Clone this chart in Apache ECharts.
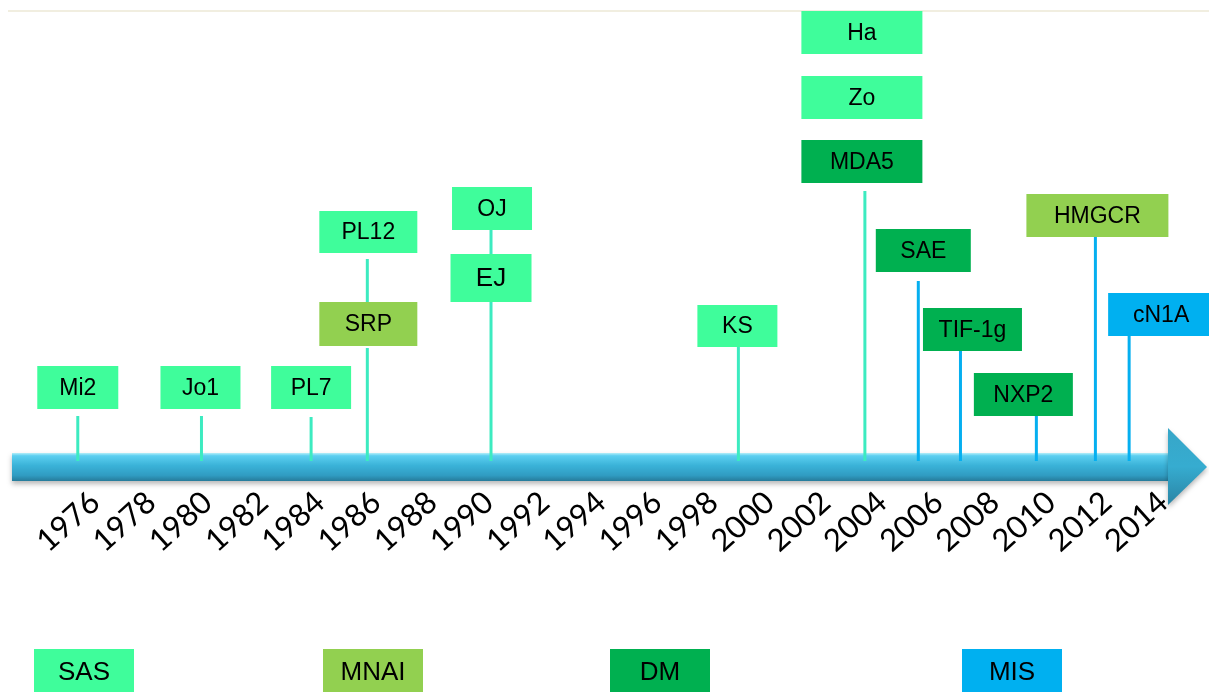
<!DOCTYPE html>
<html>
<head>
<meta charset="utf-8">
<title>Myositis antibody timeline</title>
<script src="https://cdn.jsdelivr.net/npm/echarts@6/dist/echarts.min.js"></script>
<style>
  html, body { margin: 0; padding: 0; background: #ffffff; }
  #chart { width: 1209px; height: 692px; }
</style>
</head>
<body>
<div id="chart"></div>
<script>
// ---- data -------------------------------------------------------------
const yearTicks = [1976, 1978, 1980, 1982, 1984, 1986, 1988, 1990, 1992, 1994,
                   1996, 1998, 2000, 2002, 2004, 2006, 2008, 2010, 2012, 2014];

const antibodies = ['Mi2', 'Jo1', 'PL7', 'PL12', 'SRP', 'EJ', 'OJ', 'KS',
                    'MDA5', 'Zo', 'Ha', 'SAE', 'TIF-1g', 'NXP2', 'HMGCR', 'cN1A'];

const discoveryYear = [1975.2, 1979.6, 1983.5, 1985.5, 1985.5, 1989.9, 1989.9, 1998.7,
                       2003.2, 2003.2, 2003.2, 2005.1, 2006.6, 2009.3, 2011.4, 2012.6];

const antibodyGroup = ['SAS', 'SAS', 'SAS', 'SAS', 'MNAI', 'SAS', 'SAS', 'SAS',
                       'DM', 'SAS', 'SAS', 'DM', 'DM', 'DM', 'MNAI', 'MIS'];

const groupNames = ['SAS', 'MNAI', 'DM', 'MIS'];

// ---- styling & layout ---------------------------------------------------
const groupColor = { SAS: '#3FFD9B', MNAI: '#92D050', DM: '#00B050', MIS: '#00B0F0' };
const stemEarly = '#3CEBC0';
const stemLate = '#05AFF0';

// label box placement: height of the box centre above the arrow, box size,
// sideways nudge of the box, gap above the stem, whether a stem is drawn
const boxLayout = {
  'Mi2':    { lift: 78.5,  w: 81,  h: 43, dx: 0,   gap: 7, stem: true },
  'Jo1':    { lift: 78.5,  w: 80,  h: 43, dx: -1,  gap: 7, stem: true },
  'PL7':    { lift: 78.5,  w: 80,  h: 43, dx: 0,   gap: 8, stem: true },
  'PL12':   { lift: 234,   w: 98,  h: 42, dx: 1,   gap: 6, stem: true },
  'SRP':    { lift: 142,   w: 98,  h: 44, dx: 1,   gap: 2, stem: true },
  'EJ':     { lift: 188,   w: 81,  h: 48, dx: 0,   gap: 0, stem: true, big: true },
  'OJ':     { lift: 257.5, w: 80,  h: 43, dx: 1,   gap: 0, stem: true },
  'KS':     { lift: 140,   w: 80,  h: 42, dx: -1,  gap: 0, stem: true },
  'MDA5':   { lift: 304.5, w: 121, h: 43, dx: -3,  gap: 8, stem: true },
  'Zo':     { lift: 368.5, w: 121, h: 43, dx: -3,  gap: 0, stem: false },
  'Ha':     { lift: 433.5, w: 121, h: 43, dx: -3,  gap: 0, stem: false },
  'SAE':    { lift: 215.5, w: 95,  h: 43, dx: 5,   gap: 9, stem: true },
  'TIF-1g': { lift: 136.5, w: 99,  h: 43, dx: 12,  gap: 0, stem: true },
  'NXP2':   { lift: 71.5,  w: 99,  h: 43, dx: -13, gap: 0, stem: true },
  'HMGCR':  { lift: 250.5, w: 142, h: 43, dx: 2,   gap: 0, stem: true },
  'cN1A':   { lift: 151.5, w: 106, h: 43, dx: 32,  gap: 0, stem: true }
};

const stemFoot = 5;          // stems end slightly inside the arrow
const labelFont = '"Liberation Sans", Arial, sans-serif';

const boxData = antibodies.map((name, i) => [discoveryYear[i], i]);

function renderBox(params, api) {
  const i = api.value(1);
  const name = antibodies[i];
  const year = discoveryYear[i];
  const lay = boxLayout[name];
  const centre = api.coord([year, lay.lift]);
  const stemX = centre[0];
  const bx = stemX + lay.dx - lay.w / 2;
  const by = centre[1] - lay.h / 2;
  const children = [];

  if (lay.stem) {
    // stop at the next box down on the same year, or at the arrow
    let bottom = api.coord([year, stemFoot])[1];
    antibodies.forEach((other, j) => {
      if (j !== i && discoveryYear[j] === year && boxLayout[other].lift < lay.lift) {
        const top = api.coord([year, boxLayout[other].lift])[1] - boxLayout[other].h / 2;
        if (top < bottom) bottom = top;
      }
    });
    children.push({
      type: 'line',
      shape: { x1: stemX, y1: by + lay.h + lay.gap, x2: stemX, y2: bottom },
      style: { stroke: year < 2005 ? stemEarly : stemLate, lineWidth: 3 },
      z2: 1
    });
  }

  children.push({
    type: 'rect',
    shape: { x: bx, y: by, width: lay.w, height: lay.h },
    style: { fill: groupColor[antibodyGroup[i]] },
    z2: 2
  });
  children.push({
    type: 'text',
    style: {
      text: name,
      x: bx + lay.w / 2,
      y: by + lay.h / 2 + 1,
      align: 'center',
      verticalAlign: 'middle',
      fill: '#000000',
      font: (lay.big ? '26px ' : '23px ') + labelFont
    },
    z2: 3
  });
  return { type: 'group', children: children };
}

function renderArrow(params, api) {
  const cs = params.coordSys;
  const axisY = api.coord([cs.x, 0])[1];
  const left = cs.x;
  const tip = cs.x + cs.width;
  const headBase = tip - 39;
  return {
    type: 'group',
    children: [
      {
        type: 'rect',
        shape: { x: left, y: axisY - 13, width: headBase - left + 1, height: 28 },
        style: {
          fill: new echarts.graphic.LinearGradient(0, 0, 0, 1, [
            { offset: 0, color: '#b4eef9' },
            { offset: 0.1, color: '#5ccff0' },
            { offset: 0.45, color: '#3ab2d8' },
            { offset: 0.8, color: '#309cc2' },
            { offset: 1, color: '#267b9a' }
          ]),
          shadowBlur: 5,
          shadowOffsetY: 3,
          shadowColor: 'rgba(0,0,0,0.28)'
        }
      },
      {
        type: 'polygon',
        shape: { points: [[headBase, axisY - 38], [tip, axisY + 1], [headBase, axisY + 39]] },
        style: {
          fill: new echarts.graphic.LinearGradient(0, 0, 0, 1, [
            { offset: 0, color: '#37a6c8' },
            { offset: 0.5, color: '#36acd0' },
            { offset: 1, color: '#2a84a4' }
          ]),
          shadowBlur: 5,
          shadowOffsetY: 3,
          shadowColor: 'rgba(0,0,0,0.28)'
        }
      }
    ]
  };
}

// legend swatches along the bottom
const legendLeft = [34, 323, 610, 962];
const legendGraphics = [];
groupNames.forEach((g, k) => {
  legendGraphics.push({
    type: 'rect',
    left: legendLeft[k], top: 649,
    shape: { width: 100, height: 50 },
    style: { fill: groupColor[g] }
  });
  legendGraphics.push({
    type: 'text',
    x: legendLeft[k] + 50, y: 673,
    style: {
      text: g, align: 'center', verticalAlign: 'middle',
      fill: '#000000', font: '26px ' + labelFont
    },
    z: 10
  });
});

const chart = echarts.init(document.getElementById('chart'), null, { renderer: 'canvas' });
chart.setOption({
  animation: false,
  backgroundColor: '#ffffff',
  grid: { left: 12, right: 2, top: 0, bottom: 226, containLabel: false },
  xAxis: {
    type: 'value',
    min: 1972.86,
    max: 2015.37,
    axisLine: { show: false },
    axisTick: { show: false },
    splitLine: { show: false },
    axisLabel: {
      customValues: yearTicks,
      rotate: 42,
      margin: 27,
      padding: [0, 7, 0, 0],
      fontSize: 31,
      fontFamily: 'Lato, "Open Sans", sans-serif',
      color: '#000000',
      formatter: v => String(v)
    }
  },
  yAxis: { type: 'value', min: 0, max: 466, show: false },
  graphic: [
    {
      type: 'line',
      shape: { x1: 8, y1: 11, x2: 1209, y2: 11 },
      style: { stroke: '#ece8d6', lineWidth: 1.5 }
    }
  ].concat(legendGraphics),
  series: [
    {
      type: 'custom',
      name: 'arrow',
      data: [[discoveryYear[0], 0]],
      renderItem: renderArrow,
      silent: true,
      z: 1
    },
    {
      type: 'custom',
      name: 'antibodies',
      data: boxData,
      renderItem: renderBox,
      clip: false,
      z: 2
    }
  ]
});
</script>
</body>
</html>
